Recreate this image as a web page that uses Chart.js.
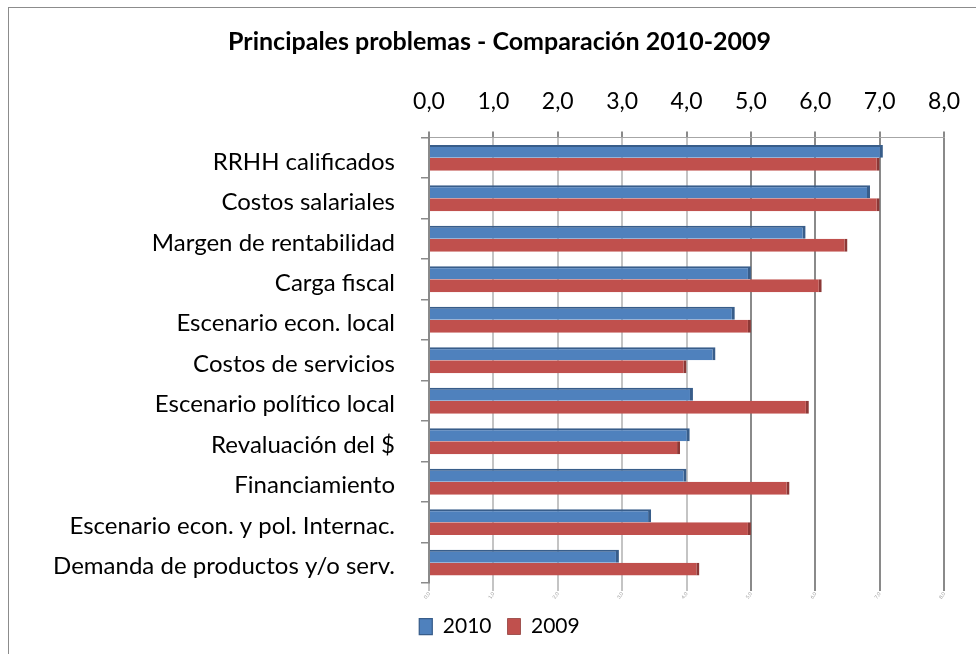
<!DOCTYPE html>
<html lang="es">
<head>
    <meta charset="UTF-8">
    <title>Principales problemas - Comparación 2010-2009</title>
    <style>
        html, body {
            margin: 0;
            padding: 0;
            background: #ffffff;
            overflow: hidden;
        }
        /* marco del gráfico (solo se ven los bordes izquierdo y superior) */
        .marco {
            position: absolute;
            left: 8px;
            top: 7px;
            width: 1200px;
            height: 900px;
            border-left: 1px solid #8c8c8c;
            border-top: 1px solid #8c8c8c;
        }
        .caja {
            position: absolute;
            left: 0;
            top: 0;
            width: 976px;
            height: 654px;
        }
    </style>
</head>
<body>
    <div class="marco"></div>
    <div class="caja">
        <canvas id="grafico" width="976" height="654"></canvas>
    </div>

    <script src="https://cdn.jsdelivr.net/npm/chart.js"></script>
    <script>
        // Datos
        const categorias = [
            'RRHH calificados',
            'Costos salariales',
            'Margen de rentabilidad',
            'Carga fiscal',
            'Escenario econ. local',
            'Costos de servicios',
            'Escenario político local',
            'Revaluación del $',
            'Financiamiento',
            'Escenario econ. y pol. Internac.',
            'Demanda de productos y/o serv.'
        ];
        const valores2010 = [7.05, 6.85, 5.85, 5.0, 4.75, 4.45, 4.1, 4.05, 4.0, 3.45, 2.95];
        const valores2009 = [7.0, 7.0, 6.5, 6.1, 5.0, 4.0, 5.9, 3.9, 5.6, 5.0, 4.2];
        const marcasEje = [0, 1, 2, 3, 4, 5, 6, 7, 8];

        Chart.defaults.font.family = 'Lato, "Open Sans", sans-serif';
        Chart.defaults.color = '#000000';

        function formato(v) {
            return Number(v).toFixed(1).replace('.', ',');
        }

        // gris claro para las líneas de la izquierda, más oscuro a la derecha
        function colorLinea(c) {
            return (c.tick && c.tick.value <= 4) ? '#c4c4c4' : '#8a8a8a';
        }

        const ctx = document.getElementById('grafico').getContext('2d');
        new Chart(ctx, {
            type: 'bar',
            data: {
                labels: categorias,
                datasets: [{
                    label: '2010',
                    data: valores2010,
                    backgroundColor: '#4f81bd',
                    borderColor: '#385d8a',
                    borderWidth: { top: 2, right: 3, bottom: 0, left: 0 },
                    borderSkipped: false,
                    categoryPercentage: 0.64,
                    barPercentage: 1.0
                }, {
                    label: '2009',
                    data: valores2009,
                    backgroundColor: '#c0504d',
                    borderColor: '#8c3836',
                    borderWidth: { top: 0, right: 3, bottom: 0, left: 0 },
                    borderSkipped: false,
                    categoryPercentage: 0.64,
                    barPercentage: 1.0
                }]
            },
            options: {
                indexAxis: 'y',
                responsive: false,
                animation: false,
                layout: {
                    padding: { top: 10, left: 49, right: 26, bottom: 7 }
                },
                plugins: {
                    title: {
                        display: true,
                        text: 'Principales problemas - Comparación 2010-2009',
                        font: { size: 25, weight: 'bold' },
                        color: '#000000',
                        padding: { top: 17, bottom: 15 }
                    },
                    legend: {
                        position: 'bottom',
                        labels: {
                            boxWidth: 13,
                            boxHeight: 16,
                            padding: 16,
                            font: { size: 21 },
                            color: '#000000'
                        }
                    },
                    tooltip: { enabled: false }
                },
                scales: {
                    x: {
                        position: 'top',
                        min: 0,
                        max: 8,
                        afterBuildTicks: function (eje) {
                            eje.ticks = marcasEje.map(v => ({ value: v }));
                        },
                        ticks: {
                            callback: v => formato(v),
                            font: { size: 23 },
                            color: '#000000',
                            padding: 16
                        },
                        grid: {
                            color: colorLinea,
                            lineWidth: 2,
                            tickLength: 6,
                            tickColor: '#8a8a8a'
                        },
                        border: { display: true, color: '#a6a6a6', width: 1 }
                    },
                    x2: {
                        position: 'bottom',
                        min: 0,
                        max: 8,
                        afterBuildTicks: function (eje) {
                            eje.ticks = marcasEje.map(v => ({ value: v }));
                        },
                        ticks: {
                            callback: v => formato(v),
                            font: { size: 5 },
                            color: '#9a9a9a',
                            minRotation: 55,
                            maxRotation: 55,
                            padding: 0
                        },
                        grid: {
                            drawOnChartArea: false,
                            tickLength: 8,
                            tickColor: colorLinea,
                            lineWidth: 2
                        },
                        border: { display: false }
                    },
                    y: {
                        afterFit: function (eje) {
                            eje.width = 429 - 49;
                        },
                        ticks: {
                            font: { size: 24 },
                            color: '#000000',
                            padding: 26,
                            labelOffset: 4
                        },
                        grid: {
                            drawOnChartArea: false,
                            tickLength: 8,
                            color: '#8a8a8a',
                            lineWidth: 1.5
                        },
                        border: { display: true, color: '#8a8a8a', width: 2 }
                    }
                }
            }
        });
    </script>
</body>
</html>
